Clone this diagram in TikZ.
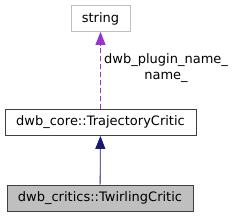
\documentclass[tikz,border=0pt]{standalone}
\usepackage{fontspec}
\setmainfont{DejaVu Sans}
\usepackage{xcolor}
\usetikzlibrary{arrows.meta,positioning}

\definecolor{edgegray}{HTML}{BFBFBF}
\definecolor{nodegray}{HTML}{BFBFBF}
\definecolor{boxborder}{HTML}{404040}
\definecolor{usepurple}{HTML}{9A32CD}
\definecolor{inheritblue}{HTML}{191970}

\begin{document}
\begin{tikzpicture}[
		x=1pt, y=1pt,
		classbox/.style={
			rectangle,
			draw=boxborder,
			line width=0.8pt,
			minimum height=26pt,
			inner xsep=5pt,
			inner ysep=0pt,
			font=\fontsize{13}{15}\selectfont
		},
		inherit/.style={
			-{Triangle[length=13pt,width=10pt]},
			draw=inheritblue,
			line width=0.8pt
		},
		usage/.style={
			-{Triangle[length=13pt,width=10pt]},
			draw=usepurple,
			line width=0.8pt,
			dash pattern=on 5pt off 3pt
		}
		]
		
		\useasboundingbox (0,0) rectangle (235,217);
		
		\node[classbox, draw=edgegray, minimum width=59pt] (str) at (100.5,198.5) {string};
		
		\node[classbox, minimum width=191pt] (traj) at (100.5,94.5) {dwb\_core::TrajectoryCritic};
		
		\node[classbox, fill=nodegray, minimum width=186pt] (twirl) at (100,19) {dwb\_critics::TwirlingCritic};
		
		\draw[inherit] (twirl) -- (traj);
		\draw[usage] (traj.north -| str) -- (str);
		\node[anchor=west, align=center, inner sep=0pt, font=\fontsize{13}{16}\selectfont] (lbl) at (104,149) {dwb\_plugin\_name\_\\name\_};
		
	\end{tikzpicture}
\end{document}
